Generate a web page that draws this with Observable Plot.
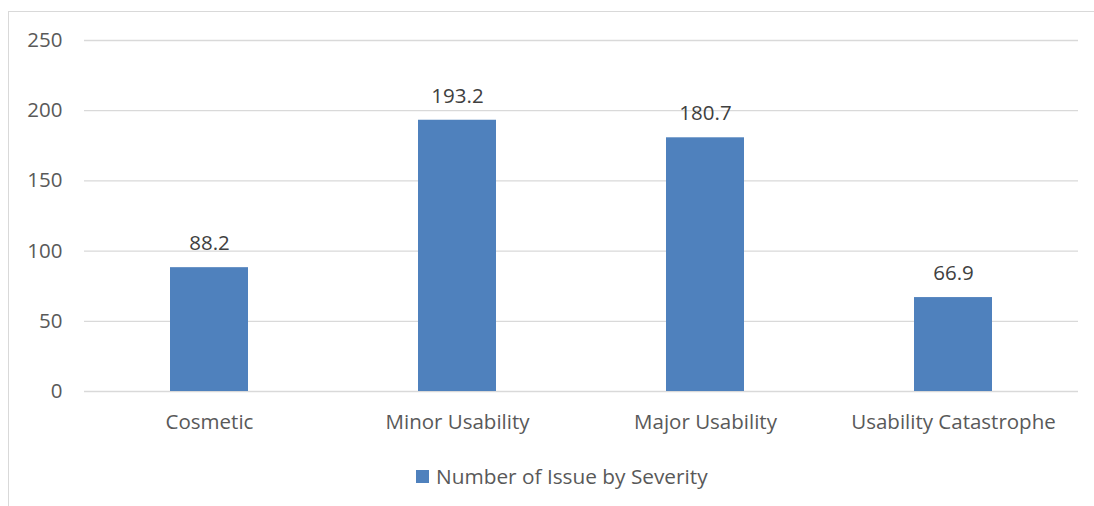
<!DOCTYPE html>
<html><head><meta charset="utf-8">
<script src="https://cdn.jsdelivr.net/npm/d3@7"></script>
<script src="https://cdn.jsdelivr.net/npm/@observablehq/plot@0.6"></script>
<style>
body{margin:0;background:#fff;font-family:"Open Sans",sans-serif;}
#frame{position:absolute;left:8px;top:11px;width:1100px;height:510px;border:1px solid #d9d9d9;box-sizing:border-box;}
#chart{position:absolute;left:0;top:0;}
#legend{position:absolute;left:416px;top:462px;display:flex;align-items:center;color:#595959;font-size:20.8px;font-family:"Open Sans",sans-serif;}
#legend span.sw{display:inline-block;width:13px;height:13px;background:#4f81bd;margin-right:7px;}
</style></head><body>
<div id="frame"></div>
<div id="chart"></div>
<div id="legend"><span class="sw"></span><span>Number of Issue by Severity</span></div>
<script>
const categories = ["Cosmetic","Minor Usability","Major Usability","Usability Catastrophe"];
const values = [88.2, 193.2, 180.7, 66.9];
const yTicks = [0,50,100,150,200,250];
const data = categories.map((c,i)=>({category:c,value:values[i]}));
const plot = Plot.plot({
  width:1094, height:440,
  marginLeft:84, marginRight:16, marginTop:40, marginBottom:49,
  style:{fontFamily:"Open Sans, sans-serif", fontSize:"20.5px", color:"#595959", background:"transparent"},
  x:{domain:categories, paddingInner:0.686, paddingOuter:0.343, label:null},
  y:{domain:[0,250], label:null},
  marks:[
    Plot.gridY(yTicks,{stroke:"#d9d9d9", strokeOpacity:1, strokeWidth:1.3}),
    Plot.axisY(yTicks,{tickSize:0, tickPadding:22, label:null, fontSize:20.5, fill:"#595959"}),
    Plot.axisX({tickSize:0, tickPadding:23, label:null, fontSize:20.5, fill:"#595959"}),
    Plot.barY(data,{x:"category", y:"value", fill:"#4f81bd"}),
    Plot.text(data,{x:"category", y:"value", text:d=>d.value.toFixed(1), dy:-24, fontSize:20.5, fill:"#404040"})
  ]
});
document.getElementById("chart").appendChild(plot);
</script>
</body></html>
